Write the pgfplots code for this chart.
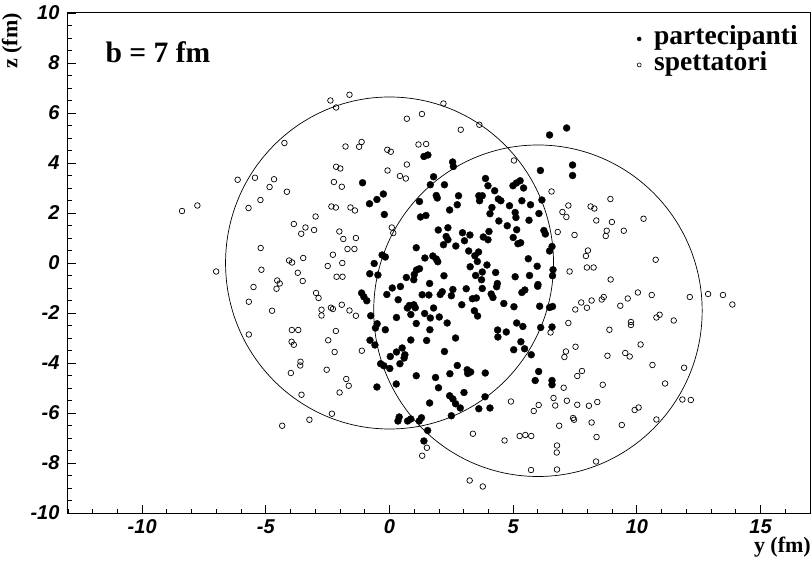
\documentclass[border=0pt]{standalone}
\usepackage{fontspec}
\setmainfont{Liberation Serif}
\setsansfont{Liberation Sans}
\usepackage{pgfplots}
\pgfplotsset{compat=1.18}

\begin{document}
\begin{tikzpicture}
\begin{axis}[
  name=ax,
  scale only axis, width=742pt, height=500pt,
  xmin=-13, xmax=17, ymin=-10, ymax=10,
  axis line style={line width=1pt},
  tick align=inside, tick pos=left,
  xtick={-10,-5,0,5,10,15}, xticklabels={-10,-5,0,5,10,15},
  ytick={-10,-8,-6,-4,-2,0,2,4,6,8,10},
  yticklabels={-10,-8,-6,-4,-2,0,2,4,6,8,10},
  minor xtick={-13,-12,...,17},
  minor ytick={-9.5,-9,-8.5,-8,-7.5,-7,-6.5,-6,-5.5,-5,-4.5,-4,-3.5,-3,-2.5,-2,-1.5,-1,-0.5,0,0.5,1,1.5,2,2.5,3,3.5,4,4.5,5,5.5,6,6.5,7,7.5,8,8.5,9,9.5},
  major tick length=8pt, minor tick length=4pt,
  every tick/.style={black, line width=0.9pt},
  ticklabel style={font=\sffamily\bfseries\itshape\fontsize{20}{20}\selectfont},
  yticklabel style={xshift=-5pt},
  xticklabel style={yshift=-3pt},
  clip=false,
  legend style={at={(0.9838,0.9745)}, anchor=north east, draw=none, fill=none,
    inner sep=0pt, column sep=0pt, row sep=0pt,
    nodes={inner sep=0pt, text height=19pt, text depth=7pt},
    font=\bfseries\fontsize{27.5}{27.5}\selectfont},
  legend cell align=left,
  legend image code/.code={\draw[#1] plot coordinates {(0pt,0pt)}; \path[draw=none] (-3pt,0pt) -- (15pt,0pt);},
]
% spettatori (open)
\addplot[only marks, mark=o, mark size=2.8pt, black, mark options={line width=0.7pt}, forget plot] coordinates {
(-4.25,4.80) (-2.39,6.50) (-1.62,6.73) (-2.16,6.22) (2.18,6.38) (0.70,5.77) (1.31,5.96) (2.88,5.33) (3.63,5.53) (-1.78,4.66) (-1.23,4.65) (-1.13,4.84) (-0.09,4.53) (0.05,4.45) (1.17,4.74) (1.48,4.76) (-2.16,3.85) (-1.99,3.78) (-0.08,3.70) (0.70,3.94) (0.42,3.48) (0.66,3.38) (5.03,4.10)
(-6.14,3.33) (-5.44,3.41) (-4.67,3.35) (-4.85,3.04) (-5.22,2.52) (-5.70,2.20) (-7.77,2.30) (-8.39,2.08) (-5.21,0.60) (-5.18,-0.27) (-7.01,-0.34) (-5.50,-0.96) (-5.69,-1.55) (-4.75,-1.91) (-5.69,-2.86)
(-4.15,2.85) (-2.25,3.24) (-1.93,3.05) (-2.35,2.26) (-2.17,2.22) (-1.58,2.22) (-1.40,2.10) (-2.99,1.86) (-3.87,1.56) (-3.40,1.42) (-3.57,1.17) (-3.05,1.32) (-2.03,1.26) (-1.87,0.96) (-1.36,1.00) (-1.70,0.56) (-1.42,0.56) (-2.29,0.33) (-2.50,-0.12) (-1.91,0.00) (-2.14,-0.55) (-1.90,-0.55) (-4.06,0.10) (-3.94,0.02) (-3.49,0.20) (-3.71,-0.39) (-3.51,-0.72) (-4.54,-0.70) (-4.44,-0.82) (-4.57,-1.03) (-2.97,-1.20) (-2.87,-1.40) (-2.75,-1.87) (-2.75,-2.10) (-2.37,-1.79) (-2.29,-1.84) (-1.93,-1.67) (-1.62,-1.90) (-1.36,-2.11) (-3.95,-2.68) (-3.69,-2.68) (-2.17,-2.72) (-2.48,-3.09) (-3.96,-3.15) (-3.87,-3.27) (0.09,1.42) (0.15,1.20)
(6.55,2.86) (7.23,2.30) (6.99,2.04) (7.15,1.84) (8.13,2.26) (8.28,2.18) (8.93,2.56) (8.36,1.70) (8.99,1.64) (10.27,1.77) (8.78,1.29) (8.74,1.08) (9.47,1.29) (6.80,1.24) (7.48,1.12) (8.02,0.50) (7.94,0.28) (10.76,0.13) (7.98,-0.18) (8.25,-0.18) (7.28,-0.34) (8.94,-0.66) (10.04,-1.18) (10.60,-1.28) (9.63,-1.42) (9.33,-1.71) (8.66,-1.36) (8.58,-1.46) (8.17,-1.50) (7.75,-1.58) (7.98,-1.79) (7.51,-1.86) (12.14,-1.36) (12.88,-1.24) (13.48,-1.28) (13.86,-1.66) (10.92,-2.07) (10.79,-2.18) (11.49,-2.30) (9.76,-2.36) (9.76,-2.48) (7.23,-2.40) (8.89,-2.67) (6.51,-2.78) (10.15,-3.26) (7.52,-3.35)
(-2.22,-3.56) (-1.12,-3.51) (-3.60,-3.95) (-3.61,-4.10) (-3.99,-4.40) (-2.54,-4.27) (-1.75,-4.64) (-1.65,-4.91) (-2.02,-5.18) (-3.56,-5.27) (-2.33,-6.03) (-3.24,-6.27) (-4.34,-6.51) (1.51,-7.39) (1.32,-7.71) (3.37,-6.83) (3.24,-8.70) (3.77,-8.94) (4.65,-7.10) (5.26,-6.92) (5.49,-6.88) (5.73,-6.92) (5.72,-8.28) (4.91,-5.54) (5.83,-5.92) (6.03,-5.68)
(7.13,-3.54) (7.07,-3.76) (8.81,-3.71) (9.53,-3.60) (9.71,-3.74) (10.63,-4.08) (11.91,-4.19) (7.78,-4.32) (7.59,-4.52) (8.62,-4.87) (7.04,-4.99) (11.14,-4.82) (6.63,-5.40) (6.70,-5.70) (7.17,-5.51) (7.59,-5.67) (8.06,-5.71) (8.40,-5.56) (11.84,-5.46) (12.18,-5.48) (9.91,-5.88) (10.07,-5.78) (7.42,-6.20) (7.46,-6.27) (8.17,-6.38) (6.86,-6.51) (9.39,-6.48) (10.79,-6.26) (8.37,-6.96) (6.77,-7.30) (6.76,-7.58) (8.35,-7.94) (6.77,-8.26)
};
% partecipanti (filled)
\addplot[only marks, mark=*, mark size=3.5pt, black, mark options={line width=0.3pt}, forget plot] coordinates {
(1.39,4.26) (1.55,4.32) (2.55,4.04) (2.58,3.86) (6.47,5.12) (7.16,5.40) (6.10,3.70) (7.40,3.92) (7.40,3.50) (1.78,3.45) (3.88,3.38) (5.28,3.29)
(-1.09,3.21) (-0.81,2.37) (-0.51,2.54) (-0.25,2.76) (-0.21,1.94) (1.65,3.13) (2.22,3.13) (1.89,2.70) (1.93,2.60) (1.21,2.46) (2.79,2.69) (2.74,2.33) (2.43,2.12) (1.25,1.84) (1.47,1.90) (3.98,3.09) (4.25,2.89) (3.61,2.69) (3.75,2.69) (3.64,2.49) (4.40,2.56) (4.50,2.49) (4.99,3.09) (5.13,3.20) (5.42,3.00) (5.35,2.49) (4.14,2.22) (4.06,1.97) (4.85,2.29) (5.08,2.02) (5.11,1.82) (5.70,2.33) (6.04,1.98) (5.64,1.71) (4.42,1.68) (4.76,1.49) (5.14,1.33) (1.97,1.32) (2.36,1.41) (2.95,1.21) (3.25,1.12) (4.02,1.26) (3.79,1.04) (3.98,0.93) (2.29,1.06) (2.36,0.93) (2.18,0.73) (2.68,0.68) (3.03,0.89) (5.00,1.02) (5.19,0.77) (5.30,0.81) (1.08,0.61) (3.20,0.48) (3.60,0.44) (3.45,0.29) (1.43,0.20) (1.75,0.28) (1.89,0.16) (1.95,0.05) (-0.30,0.32) (-0.17,0.24) (-0.62,-0.02) (1.21,-0.23) (1.09,-0.28) (3.26,-0.15) (3.94,-0.08) (3.55,0.06) (5.61,0.17) (5.97,-0.13) (-0.80,-0.43) (-0.47,-0.48) (1.00,-0.46) (0.68,-0.58) (0.98,-0.67) (2.20,-0.51) (3.48,-0.50) (3.75,-0.36) (3.72,-0.67) (4.29,-0.38) (5.08,-0.55) (5.66,-0.50) (1.62,-0.82) (4.36,-0.82) (4.33,-0.95) (6.00,-0.86) (5.99,-0.93) (0.44,-0.94) (0.11,-1.00) (-0.11,-1.26) (2.56,-1.06) (2.50,-1.31) (2.13,-1.15) (2.05,-1.26) (3.10,-1.03) (1.32,-1.27) (1.59,-1.28) (3.75,-1.02) (4.11,-1.24) (4.18,-1.38) (5.35,-1.18) (5.47,-1.08) (-1.13,-1.20) (-1.04,-1.35) (-0.92,-1.51) (0.35,-1.47) (3.35,-1.43) (3.51,-1.40) (2.92,-1.67) (4.62,-1.62) (5.03,-1.75) (0.80,-1.70) (0.98,-1.67) (0.72,-1.80) (1.04,-1.79) (1.78,-1.80) (1.42,-2.02) (1.65,-2.20) (0.86,-2.06) (2.01,-2.16) (3.43,-1.91) (3.56,-2.12) (6.07,-1.73) (-0.76,-2.11) (0.28,-2.18) (1.08,-2.42) (2.33,-2.40) (1.63,-2.67) (-0.50,-2.43) (-0.57,-2.60) (-0.17,-2.67) (5.14,-2.40) (5.39,-2.54) (4.37,-2.68) (4.72,-2.76) (4.38,-2.96) (2.67,-3.00) (0.86,-3.08) (1.50,-3.10) (-0.79,-3.09) (-0.59,-3.28) (5.31,-3.15) (0.51,-3.40)
(6.16,2.52) (6.24,1.30) (6.30,1.16) (6.57,0.66) (6.47,0.48) (6.61,-0.27) (6.59,-0.51) (6.47,-1.78) (6.59,-1.74) (6.11,-2.58) (6.57,-2.56)
(0.03,-3.74) (0.28,-3.56) (0.62,-3.67) (0.59,-3.80) (0.42,-4.03) (-0.36,-4.03) (-0.23,-4.11) (0.01,-4.22) (2.22,-3.54) (0.27,-4.84) (-0.51,-4.96) (1.08,-4.51) (1.86,-4.58) (1.98,-4.99) (2.44,-4.43) (2.74,-4.10) (3.14,-4.27) (3.28,-4.36) (3.16,-4.42) (3.87,-4.40) (3.01,-5.18) (2.43,-5.31) (2.56,-5.44) (2.67,-5.63) (2.86,-5.80) (1.62,-5.60) (3.61,-5.83) (4.06,-5.80) (3.86,-5.35) (2.50,-6.11) (0.39,-6.16) (0.34,-6.32) (0.73,-6.32) (0.86,-6.24) (1.29,-6.19) (1.20,-6.32) (1.54,-6.70) (1.39,-7.12) (5.02,-3.47) (5.46,-3.43) (5.73,-3.67) (6.03,-4.34) (5.89,-4.70) (6.57,-4.70) (6.57,-4.87)
};
\addlegendimage{only marks, mark=*, mark size=2pt, black}
\addlegendentry{partecipanti}
\addlegendimage{only marks, mark=o, mark size=2pt, black, mark options={line width=0.6pt}}
\addlegendentry{spettatori}
% nuclei
\draw[line width=0.7pt] (axis cs:0,0) ellipse [x radius=6.63, y radius=6.64];
\draw[line width=0.7pt] (axis cs:6.0,-1.91) ellipse [x radius=6.64, y radius=6.63];
% texts
\node[anchor=base west, inner sep=0pt, font=\bfseries\fontsize{29.6}{30}\selectfont] at (axis cs:-11.49,8.0) {b = 7 fm};
\node[anchor=base east, inner sep=0pt, font=\bfseries\fontsize{22}{22}\selectfont] at ([xshift=1pt,yshift=-39.5pt]rel axis cs:1,0) {y (fm)};
\node[rotate=90, anchor=base east, inner sep=0pt, font=\bfseries\fontsize{22}{22}\selectfont] at ([xshift=-50.5pt]rel axis cs:0,1) {z (fm)};
\end{axis}
\pgfresetboundingbox
\path[use as bounding box] ([xshift=-68pt,yshift=-48pt]ax.south west) rectangle ([xshift=2pt,yshift=13pt]ax.north east);
\end{tikzpicture}
\end{document}
